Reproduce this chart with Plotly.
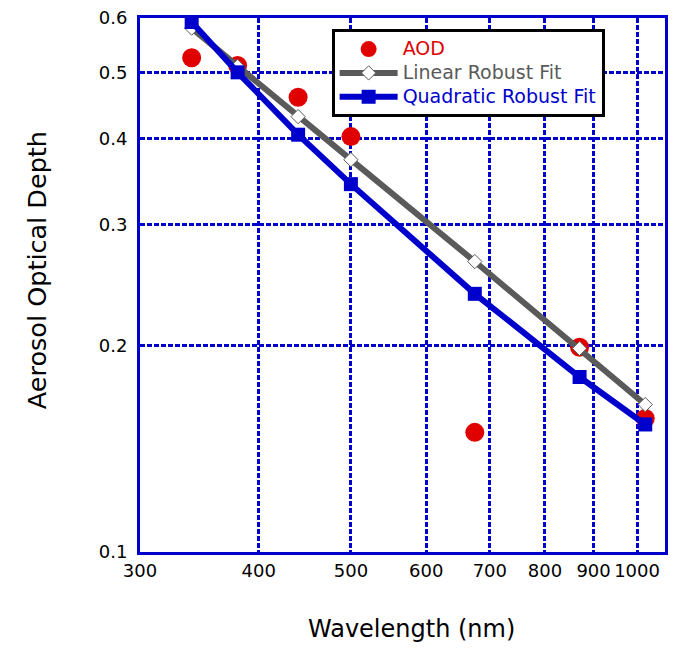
import plotly.graph_objects as go
import numpy as np

wavelengths = [340, 380, 440, 500, 675, 870, 1020]
aod = [0.525, 0.5115, 0.460, 0.403, 0.1494, 0.1988, 0.1565]
linear_fit = [0.580, 0.510, 0.431, 0.373, 0.265, 0.198, 0.164]
quadratic_fit = [0.592, 0.500, 0.4056, 0.3436, 0.2378, 0.1799, 0.1534]

x_ticks = [300, 400, 500, 600, 700, 800, 900, 1000]
y_ticks = [0.1, 0.2, 0.3, 0.4, 0.5, 0.6]

RED = "#E00000"
GRAY = "#5A5A5A"
BLUE = "#0000CC"
FONT = "DejaVu Sans"

fig = go.Figure()
fig.add_trace(go.Scatter(
    x=wavelengths, y=aod, mode="markers",
    name="<span style='color:#E00000;font-size:19px'>AOD</span>",
    marker=dict(symbol="circle", size=19, color=RED, line=dict(width=0)),
))
fig.add_trace(go.Scatter(
    x=wavelengths, y=linear_fit, mode="lines+markers",
    name="<span style='color:#5A5A5A;font-size:19px'>Linear Robust Fit</span>",
    line=dict(color=GRAY, width=6),
    marker=dict(symbol="diamond", size=11, color="white", line=dict(color=GRAY, width=1)),
))
fig.add_trace(go.Scatter(
    x=wavelengths, y=quadratic_fit, mode="lines+markers",
    name="<span style='color:#0000CC;font-size:19px'>Quadratic Robust Fit</span>",
    line=dict(color=BLUE, width=6),
    marker=dict(symbol="square", size=14, color=BLUE, line=dict(width=0)),
))

axis_common = dict(
    showline=True, linecolor=BLUE, linewidth=3, mirror=True,
    showgrid=True, gridcolor=BLUE, gridwidth=3, griddash="5px,2px",
    ticks="", zeroline=False, ticklabeloverflow="allow",
    tickfont=dict(family=FONT, size=18, color="black"),
)

fig.update_layout(
    width=675, height=648,
    margin=dict(l=140, r=7, t=11, b=96),
    paper_bgcolor="white", plot_bgcolor="white",
    showlegend=True,
    legend=dict(
        x=0.365, y=0.979, xanchor="left", yanchor="top",
        bgcolor="white", bordercolor="black", borderwidth=3,
        font=dict(family=FONT, size=16),
        tracegroupgap=0, itemwidth=58,
    ),
    xaxis=dict(type="log", range=[np.log10(300), np.log10(1070)],
               tickvals=x_ticks, ticktext=[str(v) for v in x_ticks], **axis_common),
    yaxis=dict(type="log", range=[np.log10(0.1), np.log10(0.6) + 1e-6],
               tickvals=y_ticks, ticktext=[str(v) for v in y_ticks],
               ticklabelstandoff=6, **axis_common),
    annotations=[
        dict(text="Wavelength (nm)", xref="paper", yref="paper", x=0.518, y=-0.145,
             xanchor="center", yanchor="middle", showarrow=False,
             font=dict(family=FONT, size=24, color="black")),
        dict(text="Aerosol Optical Depth", xref="paper", yref="paper", x=-0.197, y=0.527,
             xanchor="center", yanchor="middle", showarrow=False, textangle=-90,
             font=dict(family=FONT, size=25.5, color="black")),
    ],
)

fig.write_html("out.html")
